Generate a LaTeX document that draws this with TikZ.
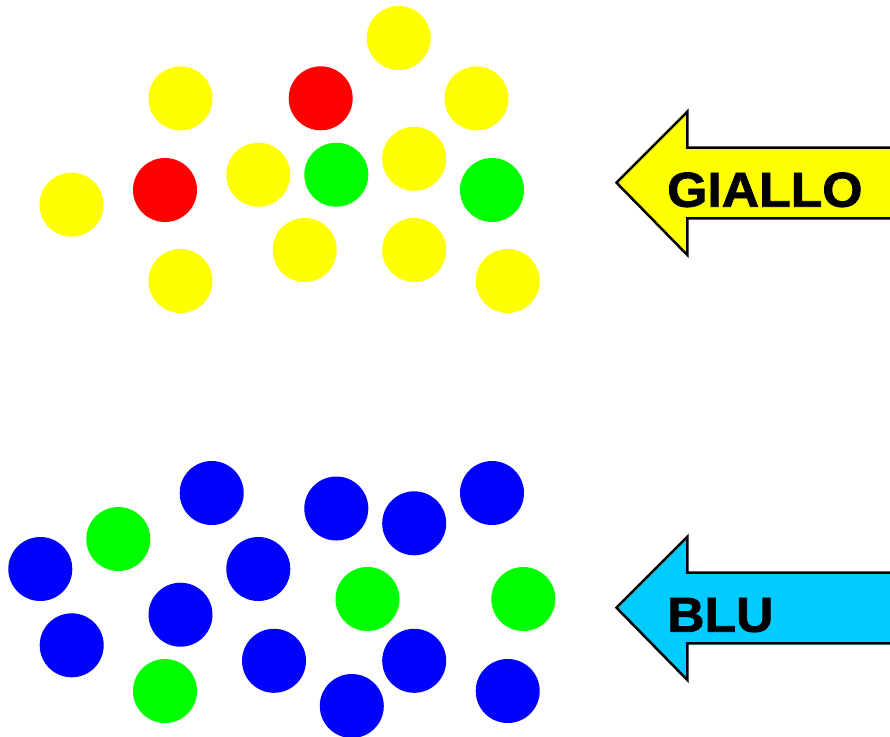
\documentclass[tikz,border=0pt]{standalone}
\usepackage{fontspec}
\setmainfont{Liberation Sans}[BoldFeatures={FakeBold=1.6, FakeStretch=1.055}]
\usepackage{tikz}

\definecolor{pallgiallo}{RGB}{255,255,0}
\definecolor{pallrosso}{RGB}{255,0,0}
\definecolor{pallverde}{RGB}{0,255,0}
\definecolor{pallblu}{RGB}{0,0,255}
\definecolor{frecciablu}{RGB}{0,204,255}

\begin{document}
\begin{tikzpicture}[x=1pt, y=-1pt,
    freccia/.style={draw=black, line width=2.5pt, line join=miter},
    etichetta/.style={anchor=base west, inner sep=0pt, font=\fontsize{49}{49}\selectfont\bfseries}]
      \useasboundingbox (0,0) rectangle (890,736);
      % yellow group
      \foreach \p in {(398.7,38),(180.5,98.4),(476.5,98.4),(258.3,174.7),(414.2,158.8),(71.5,204.7),(180.5,281),(304.7,250),(414.2,250),(507.7,281)}
        \fill[pallgiallo] \p circle (32);
      \foreach \p in {(320.7,98.3),(165,190)}
        \fill[pallrosso] \p circle (32);
      \foreach \p in {(336.3,174.7),(492,190)}
        \fill[pallverde] \p circle (32);
      % blue group
      \foreach \p in {(211.7,493),(336.3,508.5),(414.2,523.3),(492,493),(40.3,569),(258.3,569),(180.5,614.7),(71.7,645.3),(274,660.8),(414.2,660.8),(351.8,706),(507.7,691)}
        \fill[pallblu] \p circle (32);
      \foreach \p in {(118.3,539),(367.5,599),(523.3,599),(165,691)}
        \fill[pallverde] \p circle (32);
      % arrows
      \draw[freccia, fill=pallgiallo] (616.5,182.7) -- (687.3,111.7) -- (687.3,147.7) -- (895,147.7)
        -- (895,218.3) -- (687.3,218.3) -- (687.3,255) -- cycle;
      \node[etichetta] (giallo) at (667,206.7) {GIALLO};
      \draw[freccia, fill=frecciablu] (616.5,607.7) -- (687.3,536.7) -- (687.3,572.7) -- (895,572.7)
        -- (895,643.3) -- (687.3,643.3) -- (687.3,680) -- cycle;
      \node[etichetta] (blu) at (667,631.7) {BLU};
    \end{tikzpicture}
\end{document}
